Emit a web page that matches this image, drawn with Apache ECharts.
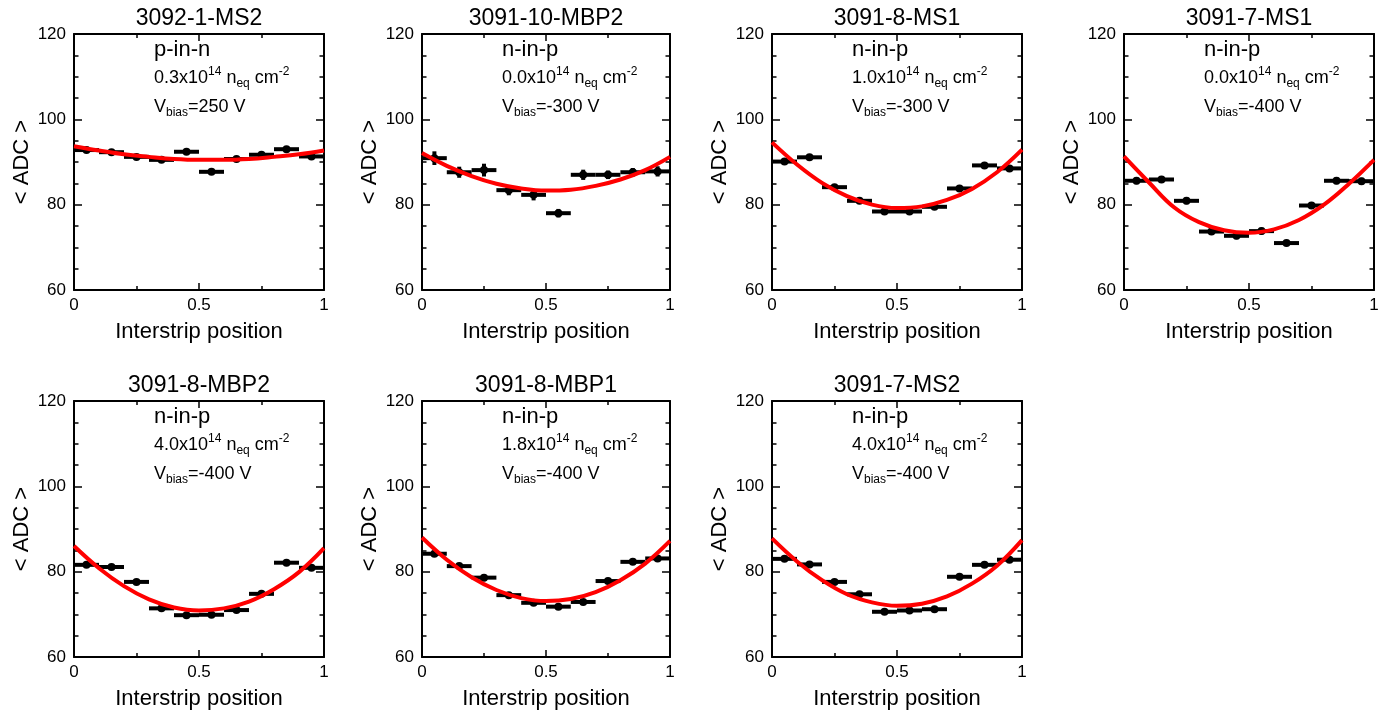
<!DOCTYPE html>
<html>
<head>
<meta charset="utf-8">
<script src="https://cdn.jsdelivr.net/npm/echarts@6/dist/echarts.min.js"></script>
<style>
  html, body { margin: 0; padding: 0; background: #fff; }
  #main { width: 1389px; height: 718px; }
</style>
</head>
<body>
<div id="main"></div>
<script>
var FONT = '"Liberation Sans", Arial, Helvetica, sans-serif';

// --- data ---
var stripPos = [0.05, 0.15, 0.25, 0.35, 0.45, 0.55, 0.65, 0.75, 0.85, 0.95];
var binHalfWidth = 0.05;
var fitPos = [0, 0.1, 0.2, 0.3, 0.4, 0.5, 0.6, 0.7, 0.8, 0.9, 1.0];

var titles = ['3092-1-MS2', '3091-10-MBP2', '3091-8-MS1', '3091-7-MS1', '3091-8-MBP2', '3091-8-MBP1', '3091-7-MS2'];
var sensorTypes = ['p-in-n', 'n-in-p', 'n-in-p', 'n-in-p', 'n-in-p', 'n-in-p', 'n-in-p'];
var fluences = ['0.3', '0.0', '1.0', '0.0', '4.0', '1.8', '4.0'];
var biasVoltages = ['250', '-300', '-300', '-400', '-400', '-400', '-400'];

var adc_3092_1_MS2 = [92.8, 92.3, 91.2, 90.5, 92.4, 87.7, 90.7, 91.7, 93.0, 91.3];
var err_3092_1_MS2 = [0.5, 0.5, 0.5, 0.5, 0.6, 0.5, 0.5, 0.5, 0.5, 0.5];
var fit_3092_1_MS2 = [93.7, 92.7, 91.8, 91.2, 90.7, 90.5, 90.5, 90.7, 91.2, 91.8, 92.7];

var adc_3091_10_MBP2 = [90.9, 87.6, 88.1, 83.4, 82.3, 78.0, 87.0, 87.0, 87.6, 87.8];
var err_3091_10_MBP2 = [1.6, 1.3, 1.5, 1.2, 1.3, 1.0, 1.2, 1.0, 1.0, 1.2];
var fit_3091_10_MBP2 = [92.1, 89.1, 86.7, 84.9, 83.8, 83.3, 83.5, 84.4, 85.9, 88.1, 91.2];

var adc_3091_8_MS1 = [90.1, 91.1, 84.1, 80.9, 78.4, 78.4, 79.5, 83.8, 89.2, 88.5];
var err_3091_8_MS1 = [0.5, 0.5, 0.5, 0.5, 0.5, 0.5, 0.5, 0.5, 0.5, 0.5];
var fit_3091_8_MS1 = [94.6, 89.4, 85.1, 82.0, 80.0, 79.2, 79.6, 81.1, 83.7, 87.6, 92.9];

var adc_3091_7_MS1 = [85.6, 85.9, 80.9, 73.7, 72.7, 73.8, 71.0, 79.8, 85.6, 85.5];
var err_3091_7_MS1 = [0.8, 0.8, 0.8, 0.8, 0.8, 0.8, 0.7, 0.8, 0.8, 0.8];
var fit_3091_7_MS1 = [91.3, 85.2, 79.4, 75.9, 74.0, 73.4, 74.2, 76.4, 80.0, 84.9, 90.5];

var adc_3091_8_MBP2 = [81.6, 81.1, 77.6, 71.4, 69.8, 69.9, 71.0, 74.8, 82.1, 80.9];
var err_3091_8_MBP2 = [0.6, 0.6, 0.6, 0.6, 0.6, 0.6, 0.6, 0.6, 0.6, 0.6];
var fit_3091_8_MBP2 = [86.0, 80.8, 76.6, 73.5, 71.6, 70.9, 71.4, 73.0, 75.9, 79.9, 85.5];

var adc_3091_8_MBP1 = [84.2, 81.3, 78.6, 74.5, 72.7, 71.8, 72.9, 77.8, 82.3, 83.1];
var err_3091_8_MBP1 = [0.6, 0.6, 0.6, 0.6, 0.6, 0.6, 0.6, 0.6, 0.6, 0.6];
var fit_3091_8_MBP1 = [88.0, 82.8, 78.7, 75.7, 73.8, 73.1, 73.6, 75.2, 78.0, 81.9, 87.2];

var adc_3091_7_MS2 = [83.0, 81.7, 77.6, 74.7, 70.6, 70.9, 71.2, 78.8, 81.6, 82.8];
var err_3091_7_MS2 = [0.6, 0.6, 0.6, 0.6, 0.6, 0.6, 0.6, 0.6, 0.6, 0.6];
var fit_3091_7_MS2 = [87.8, 82.4, 78.0, 74.7, 72.8, 72.0, 72.5, 74.2, 77.2, 81.4, 87.4];

var adcAll = [adc_3092_1_MS2, adc_3091_10_MBP2, adc_3091_8_MS1, adc_3091_7_MS1, adc_3091_8_MBP2, adc_3091_8_MBP1, adc_3091_7_MS2];
var errAll = [err_3092_1_MS2, err_3091_10_MBP2, err_3091_8_MS1, err_3091_7_MS1, err_3091_8_MBP2, err_3091_8_MBP1, err_3091_7_MS2];
var fitAll = [fit_3092_1_MS2, fit_3091_10_MBP2, fit_3091_8_MS1, fit_3091_7_MS1, fit_3091_8_MBP2, fit_3091_8_MBP1, fit_3091_7_MS2];

// --- layout ---
var panelLeft = [74, 422, 772, 1124, 74, 422, 772];
var panelTop = [34, 34, 34, 34, 401, 401, 401];
var panelW = [250, 248, 250, 250, 250, 248, 250];
var panelH = 256;

var chart = echarts.init(document.getElementById('main'));

var grids = [], xAxes = [], yAxes = [], series = [], graphics = [];

function xAxisDef(i, mirror) {
  return {
    type: 'value', gridIndex: i, min: 0, max: 1, interval: 0.5,
    position: mirror ? 'top' : 'bottom',
    name: mirror ? '' : 'Interstrip position',
    nameLocation: 'middle', nameGap: 31,
    nameTextStyle: { fontFamily: FONT, fontSize: 22, color: '#000' },
    axisLine: { show: true, onZero: false, lineStyle: { color: '#000', width: 2 } },
    axisTick: { show: true, inside: true, length: 7, lineStyle: { color: '#000', width: 1.5 } },
    minorTick: { show: true, splitNumber: 2, length: 4, lineStyle: { color: '#000', width: 1.5 } },
    axisLabel: { show: !mirror, fontFamily: FONT, fontSize: 17, color: '#000', margin: 7 },
    splitLine: { show: false }
  };
}

function yAxisDef(i, mirror) {
  return {
    type: 'value', gridIndex: i, min: 60, max: 120, interval: 20,
    position: mirror ? 'right' : 'left',
    name: mirror ? '' : '< ADC >',
    nameLocation: 'middle', nameGap: 41,
    nameTextStyle: { fontFamily: FONT, fontSize: 22, color: '#000' },
    axisLine: { show: true, onZero: false, lineStyle: { color: '#000', width: 2 } },
    axisTick: { show: true, inside: true, length: 8, lineStyle: { color: '#000', width: 1.5 } },
    minorTick: { show: true, splitNumber: 4, length: 4.5, lineStyle: { color: '#000', width: 1.5 } },
    axisLabel: { show: !mirror, fontFamily: FONT, fontSize: 17, color: '#000', margin: 8 },
    splitLine: { show: false }
  };
}

function renderPoint(params, api) {
  var x = api.value(0), y = api.value(1), e = api.value(2);
  var left = api.coord([x - binHalfWidth, y]);
  var right = api.coord([x + binHalfWidth, y]);
  var top = api.coord([x, y + e]);
  var bottom = api.coord([x, y - e]);
  var c = api.coord([x, y]);
  return {
    type: 'group',
    children: [
      { type: 'line', shape: { x1: left[0], y1: left[1], x2: right[0], y2: right[1] }, style: { stroke: '#000', lineWidth: 4 } },
      { type: 'line', shape: { x1: top[0], y1: top[1], x2: bottom[0], y2: bottom[1] }, style: { stroke: '#000', lineWidth: 4 } },
      { type: 'circle', shape: { cx: c[0], cy: c[1], r: 4 }, style: { fill: '#000' } }
    ]
  };
}

var richMain = { fontFamily: FONT, fontSize: 18, lineHeight: 24, height: 24, verticalAlign: 'middle', color: '#000' };
var richSup = { fontFamily: FONT, fontSize: 12, height: 12, verticalAlign: 'top', color: '#000' };
var richSub = { fontFamily: FONT, fontSize: 12, height: 12, verticalAlign: 'bottom', color: '#000' };

for (var i = 0; i < titles.length; i++) {
  var L = panelLeft[i], T = panelTop[i], W = panelW[i];
  grids.push({ left: L, top: T, width: W, height: panelH, show: false });
  xAxes.push(xAxisDef(i, false), xAxisDef(i, true));
  yAxes.push(yAxisDef(i, false), yAxisDef(i, true));

  var pts = stripPos.map(function (x, k) { return [x, adcAll[i][k], errAll[i][k]]; });
  var fit = fitPos.map(function (x, k) { return [x, fitAll[i][k]]; });

  series.push({
    type: 'custom', xAxisIndex: 2 * i, yAxisIndex: 2 * i,
    renderItem: renderPoint, data: pts, z: 2, clip: false
  });
  series.push({
    type: 'line', xAxisIndex: 2 * i, yAxisIndex: 2 * i,
    data: fit, smooth: 0.4, showSymbol: false, z: 3,
    lineStyle: { color: '#ff0000', width: 4 }
  });

  graphics.push({
    type: 'text',
    style: { text: titles[i], x: L + W / 2, y: T - 15, align: 'center', verticalAlign: 'middle',
             fontFamily: FONT, fontSize: 23, fill: '#000' }
  });
  graphics.push({
    type: 'text',
    style: { text: sensorTypes[i], x: L + 80, y: T + 16, align: 'left', verticalAlign: 'middle',
             fontFamily: FONT, fontSize: 22, fill: '#000' }
  });
  graphics.push({
    type: 'text',
    style: {
      text: '{m|' + fluences[i] + 'x10}{sp|14}{m| n}{sb|eq}{m| cm}{sp|-2}',
      x: L + 80, y: T + 32, align: 'left', verticalAlign: 'top',
      fontFamily: FONT, fontSize: 18, fill: '#000',
      rich: { m: richMain, sp: richSup, sb: richSub }
    }
  });
  graphics.push({
    type: 'text',
    style: {
      text: '{m|V}{sb|bias}{m|=' + biasVoltages[i] + ' V}',
      x: L + 80, y: T + 61, align: 'left', verticalAlign: 'top',
      fontFamily: FONT, fontSize: 18, fill: '#000',
      rich: { m: richMain, sp: richSup, sb: richSub }
    }
  });
}

chart.setOption({
  animation: false,
  backgroundColor: '#fff',
  grid: grids,
  xAxis: xAxes,
  yAxis: yAxes,
  series: series,
  graphic: graphics
});
</script>
</body>
</html>
